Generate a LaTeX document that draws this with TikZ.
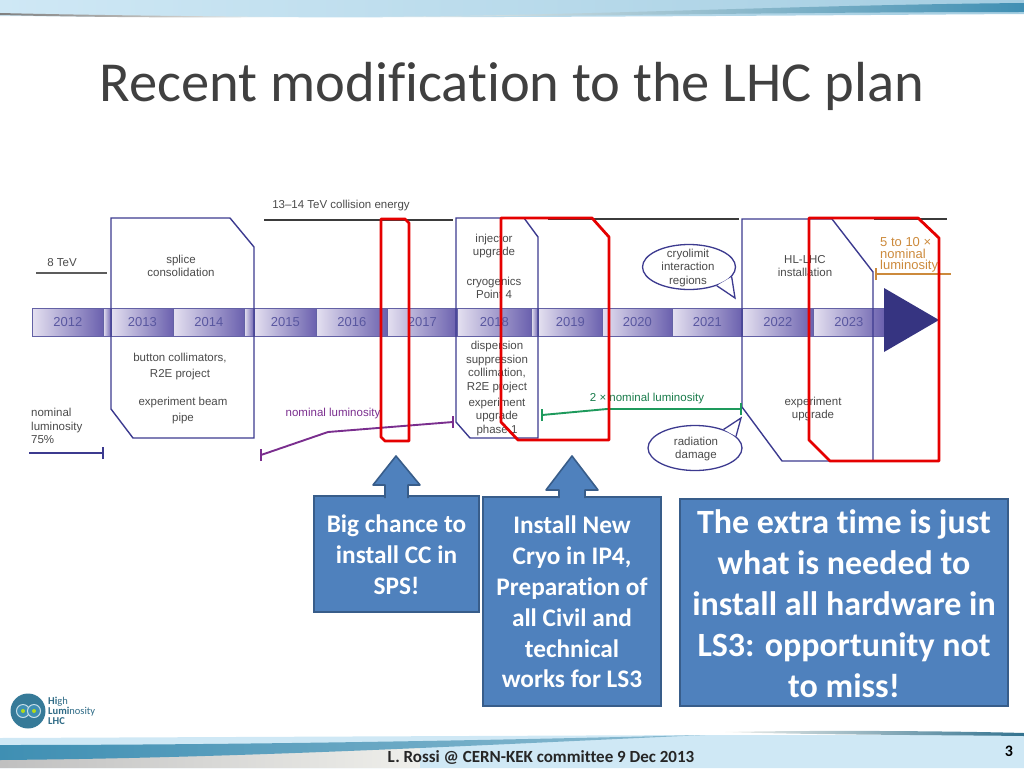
\documentclass[tikz,border=0pt]{standalone}
\usepackage{fontspec}
\setmainfont[Ligatures=CommonOff]{Carlito}
\newfontfamily\chartfont{Liberation Sans}
\usetikzlibrary{shapes.geometric}
\definecolor{bandteal}{HTML}{3F8FB3}
\definecolor{bandlight}{HTML}{CFE8F5}
\definecolor{bandpale}{HTML}{EFEFEB}
\definecolor{boxfill}{HTML}{4F81BD}
\definecolor{boxedge}{HTML}{385D8A}
\definecolor{chartblue}{HTML}{3C3A8F}
\definecolor{barlight}{HTML}{E4E0F0}
\definecolor{bardark}{HTML}{6A60AE}
\definecolor{chartgrey}{HTML}{4A4A4A}
\definecolor{lumipurple}{HTML}{7A2E8E}
\definecolor{lumigreen}{HTML}{1E9A5C}
\definecolor{lumiorange}{HTML}{CC8A3C}
\tikzset{
  yearbar/.style={minimum height=28pt,inner sep=0pt,draw=chartblue!80,line width=0.8pt,left color=barlight,right color=bardark,
    text=chartblue!85,font=\chartfont\fontsize{13}{15}\selectfont},
  chartlabel/.style={align=center,inner sep=0pt,yshift=-1pt,text=chartgrey,font=\chartfont\fontsize{11.5}{13.4}\selectfont},
  phasebox/.style={draw=chartblue,line width=1.4pt},
  redframe/.style={draw=red!90!black,line width=2.8pt,line join=round},
  lumiline/.style={line width=1.9pt},
  bubble/.style={ellipse,draw=chartblue,fill=white,line width=1.3pt,inner sep=0pt},
  notebox/.style={draw=boxedge,fill=boxfill,line width=1.6pt,inner sep=0pt},
  notetext/.style={align=center,text=white,anchor=north,inner sep=0pt},
  notearrow/.style={draw=boxedge,fill=boxfill,line width=1.6pt,line join=round}
}
\begin{document}
\begin{tikzpicture}[x=1pt,y=-1pt]
  \useasboundingbox (0,0) rectangle (1024,768);
  \shade[left color=bandlight,middle color=bandpale,right color=bandlight!70!bandteal]
    (0,0) -- (1024,0) -- (1024,14) .. controls (700,16) and (400,19) .. (0,16) -- cycle;
  \shade[left color=bandpale,middle color=bandteal!75!black,right color=bandteal]
    (380,17) .. controls (600,15) and (800,5) .. (1024,3) -- (1024,12) .. controls (800,12) and (600,16) .. (380,17) -- cycle;
  \shade[left color=chartgrey!70,right color=bandpale]
    (0,13) .. controls (80,15) and (180,16) .. (270,17) .. controls (180,18) and (80,17) .. (0,15) -- cycle;
  \shade[left color=bandlight,middle color=bandpale,right color=bandlight]
    (0,738) -- (700,735) -- (1024,735) -- (1024,768) -- (0,768) -- cycle;
  \shade[left color=chartgrey!35,right color=bandpale]
    (0,758) -- (420,748) -- (420,768) -- (0,768) -- cycle;
  \shade[left color=bandteal,middle color=bandteal!90!black,right color=bandteal!60]
    (0,745) .. controls (250,745) and (500,740) .. (705,735) .. controls (500,744) and (250,758) .. (0,760) -- cycle;
  \shade[left color=bandpale,right color=bandteal!80!black]
    (725,732) .. controls (820,730) and (950,731) .. (1024,733) -- (1024,736) .. controls (950,735) and (820,735) .. (725,732) -- cycle;
  \node[font=\fontsize{56.5}{60}\selectfont,text=black!75,inner sep=0pt] (title) at (512,86) {Recent modification to the LHC plan};
  % year bar
  \foreach \xa/\xb/\yr in {32/103/2012,103/111/,111/173/2013,173/244/2014,244/254/,254/316/2015,316/387/2016,387/457/2017,
    457/531/2018,531/538/,538/602/2019,602/672/2020,672/742/2021,742/813/2022,813/884/2023}
    \node[yearbar,minimum width=\xb pt-\xa pt,anchor=west] (bar\xa) at (\xa,322) {\yr};
  \fill[chartblue!90!black] (884,288) -- (939,320) -- (884,352) -- cycle;
  % phases
  \draw[phasebox] (111,218) -- (230,218) -- (254,247) -- (254,438) -- (133,438) -- (111,409) -- cycle;
  \draw[phasebox] (456,218) -- (524,218) -- (538,237) -- (538,438) -- (470,438) -- (456,422) -- cycle;
  \draw[phasebox] (742,219) -- (832,219) -- (873,272) -- (873,461) -- (782,461) -- (742,407) -- cycle;
  \draw[line width=2pt,chartgrey!90] (36,273) -- (107,273);
  \draw[line width=2.2pt,chartgrey!80!black] (264,220) -- (453,220);
  \draw[line width=2.2pt,chartgrey!80!black] (548,219) -- (739,219);
  \draw[line width=2.2pt,chartgrey!80!black] (874,219) -- (947,219);
  % labels
  \node[chartlabel] (energy) at (341,205) {13–14 TeV collision energy};
  \node[chartlabel] (lowenergy) at (62,262) {8 TeV};
  \node[chartlabel] (splice) at (181,265) {splice\\consolidation};
  \node[chartlabel,font=\chartfont\fontsize{11.5}{16}\selectfont] (button) at (180,366) {button collimators,\\R2E project};
  \node[chartlabel,font=\chartfont\fontsize{11.5}{16}\selectfont] (beampipe) at (183,410) {experiment beam\\pipe};
  \node[chartlabel,align=left,anchor=west] (lumilow) at (31,425) {nominal\\luminosity\\75\%};
  \node[chartlabel,text=lumipurple] (luminom) at (333,413) {nominal luminosity};
  \node[chartlabel] (injector) at (494,245) {injector\\upgrade};
  \node[chartlabel] (cryogenics) at (494,287) {cryogenics\\Point 4};
  \node[chartlabel] (dispersion) at (497,366) {dispersion\\suppression\\collimation,\\R2E project};
  \node[chartlabel] (phaseone) at (497,416) {experiment\\upgrade\\phase 1};
  \node[chartlabel,text=lumigreen!80!black] (lumitwo) at (647,398) {2 × nominal luminosity};
  \node[chartlabel] (hllhc) at (805,265) {HL-LHC\\installation};
  \node[chartlabel] (upgrade) at (813,408) {experiment\\upgrade};
  \node[chartlabel,align=left,anchor=west,text=lumiorange,font=\chartfont\fontsize{13}{11.5}\selectfont] (lumihigh) at (880,254) {5 to 10 ×\\nominal\\luminosity};
  % bubbles
  \node[bubble,minimum width=93pt,minimum height=45pt] (cryo) at (689,267) {};
  \draw[fill=white,draw=chartblue,line width=1.3pt] (cryo.-13) -- (735,298) -- (cryo.-34);
  \node[chartlabel] (cryotext) at (688,267) {cryolimit\\interaction\\regions};
  \node[bubble,minimum width=94pt,minimum height=45pt] (damage) at (695,448) {};
  \draw[fill=white,draw=chartblue,line width=1.3pt] (damage.33) -- (741,418) -- (damage.16);
  \node[chartlabel] (damagetext) at (696,448) {radiation\\damage};
  % luminosity lines
  \coordinate (lowa) at (29,453);
  \coordinate (lowb) at (103,453);
  \draw[lumiline,chartblue] (lowa) -- (lowb);
  \draw[lumiline,chartblue] ([yshift=-6pt]lowb) -- ([yshift=6pt]lowb);
  \coordinate (noma) at (261,455);
  \coordinate (nomb) at (328,432);
  \coordinate (nomc) at (453,422);
  \draw[lumiline,lumipurple] (noma) -- (nomb) -- (nomc);
  \draw[lumiline,lumipurple] ([yshift=-6pt]noma) -- ([yshift=6pt]noma);
  \draw[lumiline,lumipurple] ([yshift=-6pt]nomc) -- ([yshift=6pt]nomc);
  \coordinate (twoa) at (542,415);
  \coordinate (twob) at (607,409);
  \coordinate (twoc) at (741,409);
  \draw[lumiline,lumigreen] (twoa) -- (twob) -- (twoc);
  \draw[lumiline,lumigreen] ([yshift=-6pt]twoa) -- ([yshift=6pt]twoa);
  \draw[lumiline,lumigreen] ([yshift=-6pt]twoc) -- ([yshift=6pt]twoc);
  \coordinate (higha) at (876,274);
  \coordinate (highb) at (951,274);
  \draw[lumiline,lumiorange] (higha) -- (highb);
  \draw[lumiline,lumiorange] ([yshift=-6pt]higha) -- ([yshift=6pt]higha);
  % red frames
  \draw[redframe] (381,219) -- (405,219) -- (409,223) -- (409,441) -- (385,441) -- (381,437) -- cycle;
  \draw[redframe] (501,218) -- (592,218) -- (609,237) -- (609,440) -- (518,440) -- (501,422) -- cycle;
  \draw[redframe] (809,218) -- (918,218) -- (939,238) -- (939,461) -- (830,461) -- (809,440) -- cycle;
  % notes
  \node[notebox,minimum width=165pt,minimum height=116pt] (chance) at (396.5,554) {};
  \draw[notearrow] (385,498) -- (385,485) -- (373,485) -- (396,456) -- (420,485) -- (408,485) -- (408,498);
  \node[notetext,font=\bfseries\fontsize{25.3}{31}\selectfont] (chancetext) at (396.5,515) {Big chance to\\install CC in\\SPS!};
  \node[notebox,minimum width=178pt,minimum height=209pt] (cryonote) at (572,601.5) {};
  \draw[notearrow] (559,498) -- (559,490) -- (546,490) -- (572,456) -- (598,490) -- (585,490) -- (585,498);
  \node[notetext,font=\bfseries\fontsize{25.3}{30.8}\selectfont] (cryonotetext) at (572,516) {Install New\\Cryo in IP4,\\Preparation of\\all Civil and\\technical\\works for LS3};
  \node[notebox,minimum width=328pt,minimum height=207pt] (extra) at (844,602.5) {};
  \node[notetext,font=\bfseries\fontsize{34}{41}\selectfont] (extratext) at (844,509) {The extra time is just\\what is needed to\\install all hardware in\\LS3: opportunity not\\to miss!};
  % logo and footer
  \node[circle,fill=bandteal!85!black,minimum size=35pt,inner sep=0pt] (logo) at (28,711) {};
  \node[circle,draw=white!70!bandteal,fill=bandteal,line width=1pt,minimum size=13pt,inner sep=0pt] (ringa) at (23,711) {};
  \node[circle,draw=white!70!bandteal,fill=bandteal,line width=1pt,minimum size=13pt,inner sep=0pt] (ringb) at (34,711) {};
  \node[circle,fill=yellow!70!green,minimum size=4pt,inner sep=0pt] (dota) at (23,711) {};
  \node[circle,fill=yellow!70!green,minimum size=4pt,inner sep=0pt] (dotb) at (34,711) {};
  \node[align=left,anchor=west,inner sep=0pt,text=bandteal!75!black,font=\fontsize{10.5}{10}\selectfont] (logotext) at (48,711) {\textbf{Hi}gh\\\textbf{Lumi}nosity\\\textbf{LHC}};
  \node[font=\bfseries\fontsize{17}{20}\selectfont,text=black!85,inner sep=0pt] (footer) at (541,757) {L. Rossi @ CERN-KEK committee 9 Dec 2013};
  \node[font=\bfseries\fontsize{16}{20}\selectfont,inner sep=0pt] (pagenum) at (1009,751) {3};
\end{tikzpicture}
\end{document}
